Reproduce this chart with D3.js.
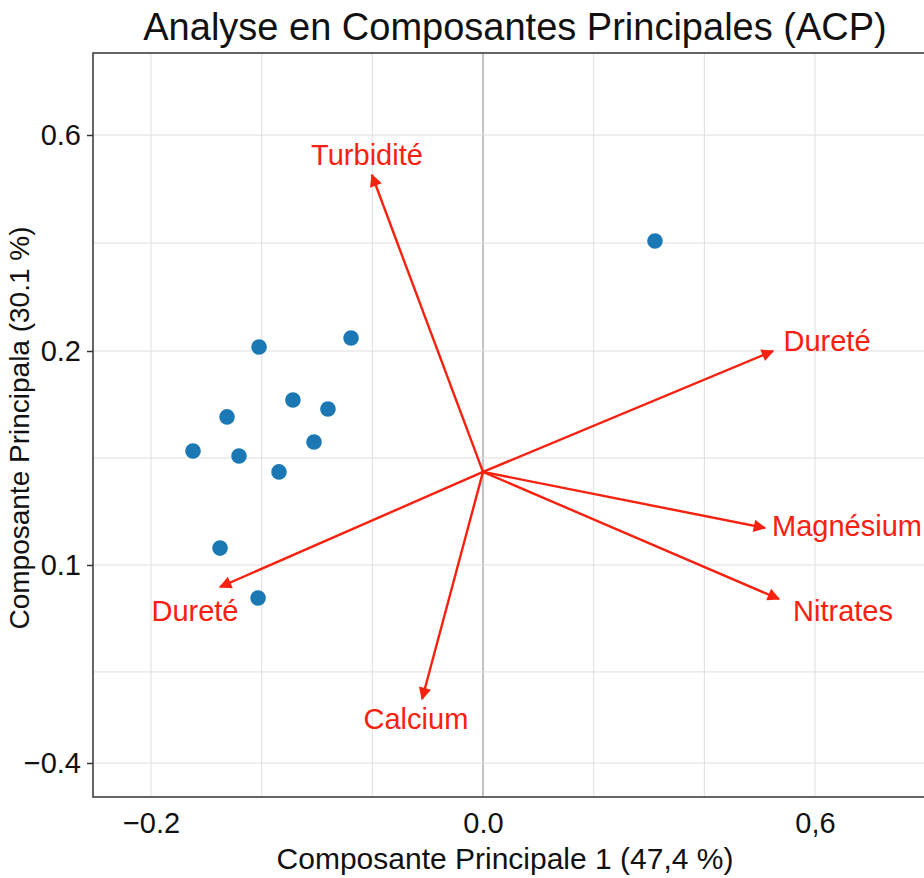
<!DOCTYPE html>
<html>
<head>
<meta charset="utf-8">
<script src="https://cdn.jsdelivr.net/npm/d3@7"></script>
<style>
  html, body { margin: 0; padding: 0; background: #fff; }
  svg { display: block; }
  text { font-family: "Liberation Sans", Arial, sans-serif; }
</style>
</head>
<body>
<svg id="chart" width="924" height="878"></svg>
<script>
// ---- data ----
const xTickValues = [-0.2, 0.0, 0.6];
const xTickLabels = ["\u22120.2", "0.0", "0,6"];
const yTickValues = [0.6, 0.2, 0.1, -0.4];
const yTickLabels = ["0.6", "0.2", "0.1", "\u22120.4"];
const xGridValues = [-0.2, -0.1333, -0.0667, 0.0, 0.2, 0.4, 0.6];
const yGridValues = [0.6, 0.4, 0.2, 0.15, 0.1, -0.17, -0.4];

const pointX = [-0.1349, -0.0795, -0.1145, -0.0934, -0.1542, -0.1747, -0.1470, -0.1018, -0.1229, -0.1584, -0.1355, 0.3108];
const pointY = [0.2074, 0.2241, 0.1771, 0.1729, 0.1692, 0.1533, 0.1509, 0.1575, 0.1435, 0.1079, 0.0167, 0.4037];

const variableNames = ["Turbidité", "Dureté", "Magnésium", "Nitrates", "Calcium", "Dureté"];
const loadingX = [-0.0669, 0.5241, 0.5096, 0.5349, -0.0367, -0.1584];
const loadingY = [0.5259, 0.2000, 0.1173, 0.0141, -0.2384, 0.0444];
const labelX = [-0.0699, 0.6217, 0.6578, 0.6506, -0.0404, -0.1735];
const labelY = [0.5630, 0.2185, 0.1182, -0.0162, -0.2889, -0.0162];
const originX = 0.0, originY = 0.1435;

const titleText = "Analyse en Composantes Principales (ACP)";
const xTitle = "Composante Principale 1 (47,4 %)";
const yTitle = "Composante Principala (30.1 %)";

// ---- layout ----
const svg = d3.select("#chart");
const panel = { left: 93, top: 53, right: 960, bottom: 797 };
const red = "#f8200e";
const blue = "#1b78b4";

const x = d3.scaleLinear().domain([-0.2, 0.0, 0.6]).range([151, 483, 815]);
const y = d3.scaleLinear().domain([-0.4, 0.1, 0.2, 0.6]).range([763, 565, 351, 135]);

// grid
const grid = svg.append("g");
grid.selectAll("line.vx").data(xGridValues).enter().append("line")
  .attr("x1", d => x(d)).attr("x2", d => x(d))
  .attr("y1", panel.top).attr("y2", panel.bottom)
  .attr("stroke", d => d === 0 ? "#9a9a9a" : "#dedede")
  .attr("stroke-width", d => d === 0 ? 1.2 : 1);
grid.selectAll("line.hy").data(yGridValues).enter().append("line")
  .attr("x1", panel.left).attr("x2", panel.right)
  .attr("y1", d => y(d)).attr("y2", d => y(d))
  .attr("stroke", "#dedede").attr("stroke-width", 1);

// points
svg.append("g").selectAll("circle").data(pointX).enter().append("circle")
  .attr("cx", d => x(d))
  .attr("cy", (d, i) => y(pointY[i]))
  .attr("r", 7.8)
  .attr("fill", blue);

// arrows
const defs = svg.append("defs");
defs.append("marker")
  .attr("id", "arrowhead")
  .attr("viewBox", "0 0 10 10")
  .attr("refX", 9).attr("refY", 5)
  .attr("markerWidth", 6.6).attr("markerHeight", 5.2)
  .attr("markerUnits", "strokeWidth")
  .attr("orient", "auto")
  .append("path").attr("d", "M0,0 L10,5 L0,10 Z").attr("fill", red);

const arrows = svg.append("g");
arrows.selectAll("line").data(variableNames).enter().append("line")
  .attr("x1", x(originX)).attr("y1", y(originY))
  .attr("x2", (d, i) => x(loadingX[i]))
  .attr("y2", (d, i) => y(loadingY[i]))
  .attr("stroke", red).attr("stroke-width", 2.4)
  .attr("marker-end", "url(#arrowhead)");

arrows.selectAll("text").data(variableNames).enter().append("text")
  .attr("x", (d, i) => x(labelX[i]))
  .attr("y", (d, i) => y(labelY[i]))
  .attr("text-anchor", "middle")
  .attr("dominant-baseline", "central")
  .attr("fill", red)
  .attr("font-size", 29)
  .text(d => d);

// panel border
svg.append("rect")
  .attr("x", panel.left).attr("y", panel.top)
  .attr("width", panel.right - panel.left).attr("height", panel.bottom - panel.top)
  .attr("fill", "none").attr("stroke", "#333").attr("stroke-width", 1.5);

// axes
const yAxis = d3.axisLeft(y).tickValues(yTickValues)
  .tickFormat((d, i) => yTickLabels[i]).tickSize(6).tickPadding(6);
const gy = svg.append("g").attr("transform", `translate(${panel.left},0)`).call(yAxis);
gy.select(".domain").remove();
gy.selectAll(".tick line").attr("stroke", "#333").attr("stroke-width", 1.5);
gy.selectAll(".tick text").attr("font-size", 29).attr("fill", "#111")
  .attr("font-family", "Liberation Sans, Arial, sans-serif");

const xAxis = d3.axisBottom(x).tickValues(xTickValues)
  .tickFormat((d, i) => xTickLabels[i]).tickSize(0).tickPadding(15);
const gx = svg.append("g").attr("transform", `translate(0,${panel.bottom})`).call(xAxis);
gx.select(".domain").remove();
gx.selectAll(".tick text").attr("font-size", 29).attr("fill", "#111")
  .attr("font-family", "Liberation Sans, Arial, sans-serif");

// titles
svg.append("text")
  .attr("x", 515).attr("y", 40)
  .attr("text-anchor", "middle")
  .attr("font-size", 38).attr("fill", "#111")
  .text(titleText);

svg.append("text")
  .attr("x", 505).attr("y", 869)
  .attr("text-anchor", "middle")
  .attr("font-size", 30).attr("fill", "#111")
  .text(xTitle);

svg.append("text")
  .attr("transform", "translate(29,428) rotate(-90)")
  .attr("text-anchor", "middle")
  .attr("font-size", 28).attr("fill", "#111")
  .text(yTitle);
</script>
</body>
</html>
